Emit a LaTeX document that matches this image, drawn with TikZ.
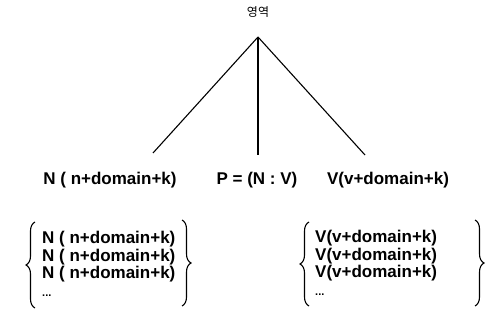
\documentclass[tikz,border=0pt]{standalone}
\usepackage{fontspec}
\setmainfont{Liberation Sans}
\newfontfamily\krfont{Noto Sans CJK KR}
\usetikzlibrary{decorations.pathreplacing}
\begin{document}
\begin{tikzpicture}[x=1pt,y=-1pt,
  lbl/.style={inner sep=0pt,font=\fontsize{17}{17.5}\selectfont\bfseries},
  grp/.style={inner sep=0pt,align=left,anchor=west,font=\fontsize{17}{17.5}\selectfont\bfseries},
  branch/.style={line width=1.1pt},
  bracestyle/.style={line width=1.1pt,decorate,decoration={brace,amplitude=9pt}}]
\useasboundingbox (0,0) rectangle (489,320);
\node[inner sep=0pt,font=\krfont\fontsize{12}{14}\selectfont] (title) at (258,12) {영역};
\coordinate (apex) at (258,37);
\node[lbl] (nl) at (110,180) {N ( n+domain+k)};
\node[lbl] (pl) at (257,180) {P = (N : V)};
\node[lbl] (vl) at (388,180) {V(v+domain+k)};
\coordinate (e1) at (153,153);
\coordinate (e2) at (258,155);
\coordinate (e3) at (365,155);
\draw[branch] (apex) -- (e1);
\draw[branch] (apex) -- (e2);
\draw[branch] (apex) -- (e3);
\node[grp] (ng) at (42,264) {N ( n+domain+k)\\N ( n+domain+k)\\N ( n+domain+k)\\{\fontsize{11}{12}\selectfont...}};
\node[grp] (vg) at (315,263) {V(v+domain+k)\\V(v+domain+k)\\V(v+domain+k)\\{\fontsize{11}{12}\selectfont...}};
\coordinate (nb1) at (35,308);
\coordinate (nb2) at (35,222);
\coordinate (nb3) at (182,220);
\coordinate (nb4) at (182,306);
\coordinate (vb1) at (309,306);
\coordinate (vb2) at (309,222);
\coordinate (vb3) at (475,220);
\coordinate (vb4) at (475,306);
\draw[bracestyle] (nb1) -- (nb2);
\draw[bracestyle] (nb3) -- (nb4);
\draw[bracestyle] (vb1) -- (vb2);
\draw[bracestyle] (vb3) -- (vb4);
\end{tikzpicture}
\end{document}
